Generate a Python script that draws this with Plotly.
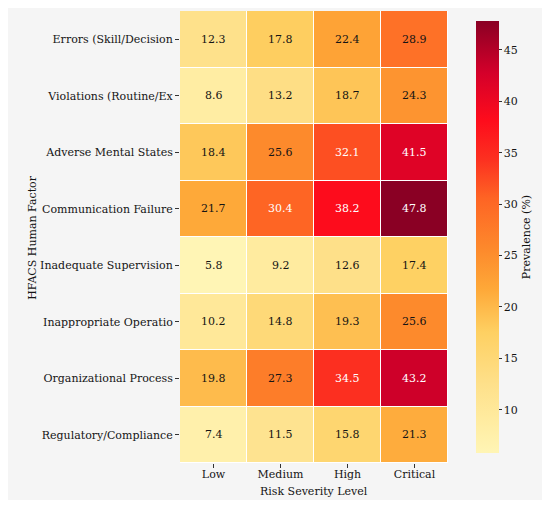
import plotly.graph_objects as go

# Heatmap data: prevalence (%) of HFACS factors by risk severity
severity_levels = ["Low", "Medium", "High", "Critical"]
human_factors = [
    "Errors (Skill/Decision",
    "Violations (Routine/Ex",
    "Adverse Mental States",
    "Communication Failure",
    "Inadequate Supervision",
    "Inappropriate Operatio",
    "Organizational Process",
    "Regulatory/Compliance",
]
low_values = [12.3, 8.6, 18.4, 21.7, 5.8, 10.2, 19.8, 7.4]
medium_values = [17.8, 13.2, 25.6, 30.4, 9.2, 14.8, 27.3, 11.5]
high_values = [22.4, 18.7, 32.1, 38.2, 12.6, 19.3, 34.5, 15.8]
critical_values = [28.9, 24.3, 41.5, 47.8, 17.4, 25.6, 43.2, 21.3]
colorbar_ticks = [10, 15, 20, 25, 30, 35, 40, 45]

# page body has an 8px margin, so the figure is a bit smaller than the window
W, H = 537, 492
ML, MR, MT, MB = 172, 90, 3, 37
FONT = "DejaVu Serif"
INK = "#141414"

# YlOrRd-like scale, tuned to the saturated look of the original
ylorrd = [
    [0.0, "#fff5b5"],
    [0.08, "#ffeb9f"],
    [0.16, "#fee08a"],
    [0.28, "#fed062"],
    [0.38, "#fea838"],
    [0.47, "#fd8a2c"],
    [0.59, "#fe6424"],
    [0.68, "#fc3020"],
    [0.77, "#fe0c1c"],
    [0.88, "#d4002a"],
    [1.0, "#8a0024"],
]

# rows = factors, columns = severity
z = [list(row) for row in zip(low_values, medium_values, high_values, critical_values)]

fig = go.Figure()
fig.add_trace(
    go.Heatmap(
        z=z,
        x=severity_levels,
        y=human_factors,
        colorscale=ylorrd,
        zmin=min(low_values),
        zmax=max(critical_values),
        xgap=1,
        ygap=1,
        hoverinfo="skip",
        colorbar=dict(
            x=1 + 18 / (W - ML - MR),
            xanchor="left",
            y=0.5,
            yanchor="middle",
            len=1,
            thickness=23,
            outlinewidth=0,
            tickvals=colorbar_ticks,
            ticks="outside",
            ticklen=3,
            tickcolor="#333",
            tickfont=dict(family=FONT, size=11, color=INK),
            title=dict(
                text="Prevalence (%)",
                side="right",
                font=dict(family=FONT, size=11, color=INK),
            ),
        ),
    )
)

# cell labels, light text on dark cells
for i, factor in enumerate(human_factors):
    for j, level in enumerate(severity_levels):
        val = z[i][j]
        fig.add_annotation(
            x=level,
            y=factor,
            text=f"{val:.1f}",
            showarrow=False,
            font=dict(family=FONT, size=11, color="white" if val > 29 else INK),
        )

pw, ph = W - ML - MR, H - MT - MB

# axis titles
fig.add_annotation(
    text="Risk Severity Level",
    xref="paper", yref="paper",
    x=0.5, y=-28 / ph,
    xanchor="center", yanchor="middle",
    showarrow=False,
    font=dict(family=FONT, size=11, color=INK),
)
fig.add_annotation(
    text="HFACS Human Factor",
    xref="paper", yref="paper",
    x=-(ML - 20) / pw, y=0.5,
    xanchor="center", yanchor="middle",
    textangle=-90,
    showarrow=False,
    font=dict(family=FONT, size=11, color=INK),
)

fig.update_layout(
    width=W,
    height=H,
    margin=dict(l=ML, r=MR, t=MT, b=MB),
    paper_bgcolor="#f5f5f5",
    plot_bgcolor="white",
    font=dict(family=FONT, size=11, color=INK),
    xaxis=dict(
        showgrid=False,
        zeroline=False,
        ticks="outside",
        ticklen=4,
        tickcolor="#333",
        ticklabelstandoff=-3,
        tickfont=dict(family=FONT, size=11, color=INK),
    ),
    yaxis=dict(
        autorange="reversed",
        showgrid=False,
        zeroline=False,
        ticks="outside",
        ticklen=4,
        tickcolor="#333",
        tickfont=dict(family=FONT, size=11, color=INK),
    ),
)

fig.write_html("out.html")
